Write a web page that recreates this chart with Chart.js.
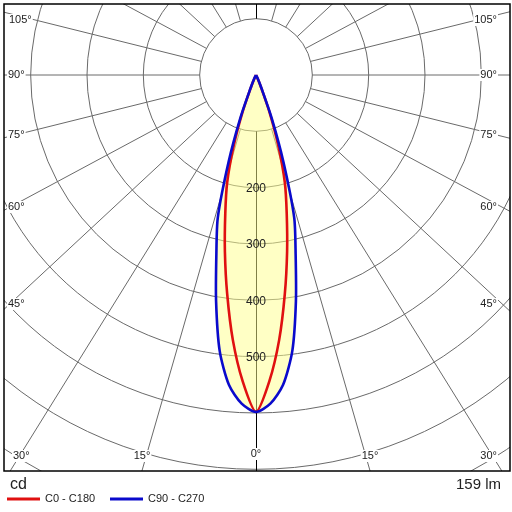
<!DOCTYPE html>
<html>
<head>
<meta charset="utf-8">
<script src="https://cdn.jsdelivr.net/npm/chart.js@4.4.0/dist/chart.umd.min.js"></script>
<style>
  html, body { margin: 0; padding: 0; background: #fff; }
  #wrap { width: 512px; height: 512px; }
</style>
</head>
<body>
<div id="wrap"><canvas id="chart" width="512" height="512"></canvas></div>
<script>
// gamma angles (degrees from nadir) and luminous intensity in cd
var gammaAngles = [0, 2.5, 5, 7.5, 10, 12.5, 15, 17.5, 20, 22.5, 25, 30, 45, 60, 75, 90];
var c0c180 = [598, 544, 472, 392, 318, 252, 198, 132, 70, 22, 6, 0, 0, 0, 0, 0];
var c90c270 = [598, 584, 552, 494, 408, 325, 262, 162, 81, 25, 8, 0, 0, 0, 0, 0];

var ringValues = [100, 200, 300, 400, 500, 600, 700, 800, 900, 1000, 1100];
var ringLabels = [200, 300, 400, 500];
var rayAngles = [15, 30, 45, 60, 75, 90, 105, 120, 135, 150, 165];
var unitText = 'cd';
var fluxText = '159 lm';

// where the angle labels sit (pixels), kept apart from the data
var angleLabelPos = [
    ['105°', 9, 20, 'left'], ['90°', 8, 75, 'left'], ['75°', 8, 135, 'left'],
    ['60°', 8, 207, 'left'], ['45°', 8, 304, 'left'], ['30°', 13, 456, 'left'],
    ['15°', 142, 456, 'center'], ['0°', 256, 454, 'center'], ['15°', 370, 456, 'center'],
    ['30°', 497, 456, 'right'], ['45°', 497, 304, 'right'], ['60°', 497, 207, 'right'],
    ['75°', 497, 135, 'right'], ['90°', 497, 75, 'right'], ['105°', 497, 20, 'right']
];

var FONT = '"Liberation Sans", Arial, sans-serif';
var pxPerCd = 0.5633;
var rayAspect = 0.93; // the source draws its rays a little flattened

/**
* Turn a half-plane intensity table into a closed curve: C180 (or C270) on the
* left, C0 (or C90) on the right, nadir pointing down.
*/
function toCurve(values) {
    var pts = [];
    var i, g;
    for (i = gammaAngles.length - 1; i >= 0; i--) {
        g = gammaAngles[i] * Math.PI / 180;
        pts.push({x: -values[i] * Math.sin(g), y: -values[i] * Math.cos(g)});
    }
    for (i = 1; i < gammaAngles.length; i++) {
        g = gammaAngles[i] * Math.PI / 180;
        pts.push({x: values[i] * Math.sin(g), y: -values[i] * Math.cos(g)});
    }
    return pts;
}

// polar grid, drawn through the x/y scales
var polarGrid = {
    id: 'polarGrid',
    beforeDraw: function(chart) {
        var ctx = chart.ctx, a = chart.chartArea;
        var sx = chart.scales.x, sy = chart.scales.y;
        var cx = sx.getPixelForValue(0), cy = sy.getPixelForValue(0);
        function rpx(v) { return sx.getPixelForValue(v) - cx; }
        ctx.save();
        ctx.fillStyle = '#fff';
        ctx.fillRect(0, 0, chart.width, chart.height);
        ctx.beginPath();
        ctx.rect(a.left, a.top, a.right - a.left, a.bottom - a.top);
        ctx.clip();
        ctx.strokeStyle = '#6a6a6a';
        ctx.lineWidth = 1;
        ringValues.forEach(function(v) {
            ctx.beginPath();
            ctx.arc(cx, cy, rpx(v), 0, Math.PI * 2);
            ctx.stroke();
        });
        var r0 = ringValues[0], r1 = 3000;
        rayAngles.forEach(function(deg) {
            var g = deg * Math.PI / 180;
            var dx = Math.sin(g), dy = Math.cos(g) * rayAspect;
            var n = Math.sqrt(dx * dx + dy * dy);
            dx /= n; dy /= n;
            [-1, 1].forEach(function(side) {
                ctx.beginPath();
                ctx.moveTo(sx.getPixelForValue(side * r0 * dx), sy.getPixelForValue(-r0 * dy));
                ctx.lineTo(sx.getPixelForValue(side * r1 * dx), sy.getPixelForValue(-r1 * dy));
                ctx.stroke();
            });
        });
        // vertical axis
        ctx.strokeStyle = '#000';
        ctx.beginPath();
        ctx.moveTo(Math.round(cx) + 0.5, sy.getPixelForValue(-r0));
        ctx.lineTo(Math.round(cx) + 0.5, sy.getPixelForValue(-r1));
        ctx.moveTo(Math.round(cx) + 0.5, sy.getPixelForValue(r0));
        ctx.lineTo(Math.round(cx) + 0.5, sy.getPixelForValue(r1));
        ctx.stroke();
        ctx.restore();
    },
    afterDatasetsDraw: function(chart) {
        var ctx = chart.ctx;
        var sx = chart.scales.x, sy = chart.scales.y;
        ctx.save();
        ctx.font = '12px ' + FONT;
        ctx.fillStyle = '#222';
        ctx.textAlign = 'center';
        ctx.textBaseline = 'middle';
        ringLabels.forEach(function(v) {
            ctx.fillText(String(v), sx.getPixelForValue(0), sy.getPixelForValue(-v) + 1);
        });
        ctx.restore();
    },
    afterDraw: function(chart) {
        var ctx = chart.ctx, a = chart.chartArea;
        ctx.save();
        // angle labels on white patches
        ctx.font = '11px ' + FONT;
        ctx.textBaseline = 'middle';
        angleLabelPos.forEach(function(l) {
            var w = ctx.measureText(l[0]).width;
            var x0 = l[3] === 'left' ? l[1] : (l[3] === 'right' ? l[1] - w : l[1] - w / 2);
            ctx.fillStyle = '#fff';
            ctx.fillRect(x0 - 1, l[2] - 6, w + 2, 12);
            ctx.fillStyle = '#222';
            ctx.textAlign = 'left';
            ctx.fillText(l[0], x0, l[2]);
        });
        // frame
        ctx.strokeStyle = '#000';
        ctx.lineWidth = 1.5;
        ctx.strokeRect(a.left, a.top, a.right - a.left, a.bottom - a.top);
        // unit and flux
        ctx.fillStyle = '#222';
        ctx.font = '16px ' + FONT;
        ctx.textAlign = 'left';
        ctx.fillText(unitText, 10, 485);
        ctx.font = '15px ' + FONT;
        ctx.textAlign = 'right';
        ctx.fillText(fluxText, 501, 485);
        // legend
        var legendX = [7, 110];
        var sets = chart.data.datasets.slice().reverse();
        sets.forEach(function(ds, i) {
            ctx.strokeStyle = ds.borderColor;
            ctx.lineWidth = 3;
            ctx.beginPath();
            ctx.moveTo(legendX[i], 499);
            ctx.lineTo(legendX[i] + 33, 499);
            ctx.stroke();
            ctx.fillStyle = '#222';
            ctx.font = '11px ' + FONT;
            ctx.textAlign = 'left';
            ctx.fillText(ds.label, legendX[i] + 38, 499);
        });
        ctx.restore();
    }
};

var ctx = document.getElementById('chart');
var myChart = new Chart(ctx, {
    type: 'scatter',
    data: {
        datasets: [
            {
                label: 'C90 - C270',
                data: toCurve(c90c270),
                showLine: true,
                borderColor: '#0a0acc',
                borderWidth: 2.6,
                backgroundColor: 'rgba(255, 255, 140, 0.5)',
                fill: 'shape',
                pointRadius: 0,
                tension: 0.25
            },
            {
                label: 'C0 - C180',
                data: toCurve(c0c180),
                showLine: true,
                borderColor: '#e01010',
                borderWidth: 2.6,
                fill: false,
                pointRadius: 0,
                tension: 0.25
            }
        ]
    },
    options: {
        responsive: false,
        animation: false,
        devicePixelRatio: 1,
        layout: { padding: { left: 4, top: 4, right: 2, bottom: 41 } },
        scales: {
            x: { type: 'linear', display: false, min: -252 / pxPerCd, max: 254 / pxPerCd },
            y: { type: 'linear', display: false, min: -396 / pxPerCd, max: 71 / pxPerCd }
        },
        plugins: {
            legend: { display: false },
            tooltip: { enabled: false },
            filler: { drawTime: 'beforeDatasetsDraw' }
        }
    },
    plugins: [polarGrid]
});
</script>
</body>
</html>
